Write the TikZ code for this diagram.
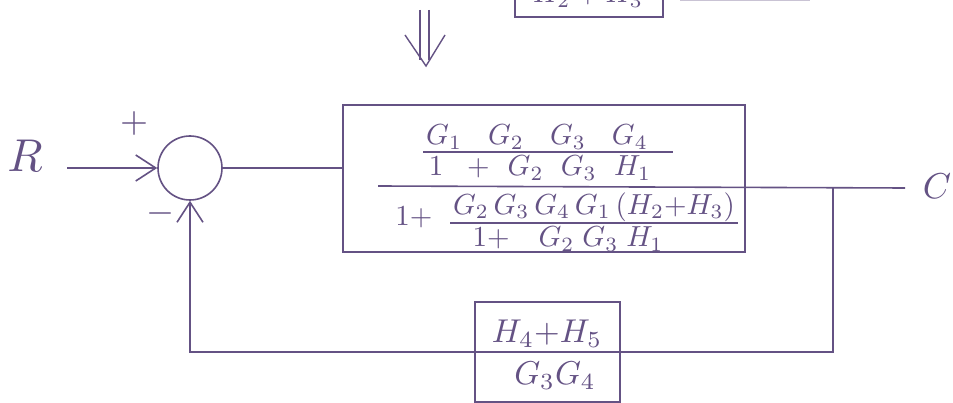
\documentclass[tikz,border=0pt]{standalone}
\usetikzlibrary{arrows.meta}
\definecolor{ink}{RGB}{100,82,132}
\begin{document}
\begin{tikzpicture}[x=1pt,y=-1pt, line width=1.6pt,
  every path/.style={draw=ink},
  txt/.style={text=ink, inner sep=0pt, scale=2.9},
  big/.style={text=ink, inner sep=0pt, scale=3.3},
  blk/.style={draw=ink, line width=1.5pt, inner sep=0pt},
  arr/.style={-{Straight Barb[length=20pt,width=26pt,line width=1.6pt]}},
  bar/.style={draw=ink, line width=1.4pt}
]
\useasboundingbox[fill=white,draw=none] (0,0) rectangle (953,403);

% top (cut off) block and the implication arrow
\node[blk, minimum width=148pt, minimum height=50pt] (T) at (589,-8) {};
\node[txt, anchor=base] (tt) at (588,3) {$H_2+H_3$};
\draw[ink!35, line width=1pt] (680,1) -- (810,1);
\draw[line width=1.4pt] (420,10) -- (420,60);
\draw[line width=1.4pt] (429,10) -- (429,60);
\draw[line width=1.4pt] (405,35) -- (426,66) -- (445,35);

% input and summing point
\node[text=ink, inner sep=0pt, scale=4.6] (R) at (25,156) {$R$};
\coordinate (rin) at (67,168);
\node[circle, draw=ink, line width=1.6pt, minimum size=64pt, inner sep=0pt] (sum) at (190,168) {};
\draw[arr] (rin) -- (sum.west);
\node[text=ink, inner sep=0pt, scale=3.6] (plus) at (134,124) {$+$};
\node[text=ink, inner sep=0pt, scale=3.6] (minus) at (160,214) {$-$};

% forward block
\node[blk, minimum width=402pt, minimum height=147pt] (G) at (544,178.5) {};
\draw (sum.east) -- (sum.east -| G.west);
\node[txt] (n1) at (537,137) {$G_1\hspace{9pt}G_2\hspace{9pt}G_3\hspace{9pt}G_4$};
\draw[bar] (423,152) -- (673,152);
\node[txt] (d1) at (540,168) {$1\hspace{6pt}+\hspace{4pt}G_2\hspace{6pt}G_3\hspace{6pt}H_1$};
\coordinate (mb) at (378,186);
\coordinate (out) at (905,188);
\coordinate (br) at (833,188);
\draw (mb) -- (out);
\node[txt] (one) at (414,217) {$1{+}$};
\node[txt] (n2) at (594,207) {$G_2\,G_3\,G_4\,G_1\,(H_2{+}H_3)$};
\draw[bar] (450,223) -- (738,223);
\node[txt] (d2) at (568,239) {$1{+}\hspace{10pt}G_2\;G_3\;H_1$};
\node[text=ink, inner sep=0pt, scale=3.6] (C) at (937,186) {$C$};

% feedback block
\node[blk, minimum width=145pt, minimum height=100pt] (H) at (547.5,352) {};
\node[big] (hn) at (547,334) {$H_4{+}H_5$};
\node[big] (hd) at (555,376) {$G_3G_4$};
\draw (br) |- (H.east);
\draw (H.west) -- (H.east);
\draw[arr] (H.west) -| (sum.south);
\end{tikzpicture}
\end{document}
